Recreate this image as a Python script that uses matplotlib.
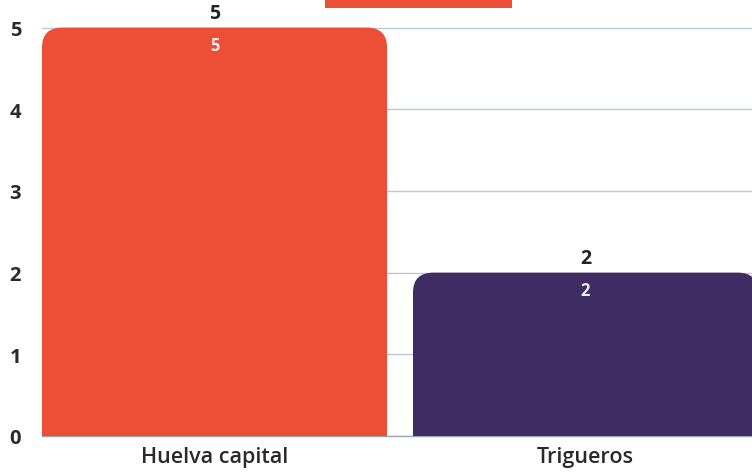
import matplotlib.pyplot as plt
from matplotlib.patches import FancyBboxPatch, Rectangle

plt.rcParams['font.family'] = ['Open Sans', 'DejaVu Sans']

categories = ['Huelva capital', 'Trigueros']
values = [5, 2]
colors = ['#ED4E36', '#3F2C62']
yticks = [0, 1, 2, 3, 4, 5]

fig = plt.figure(figsize=(7.52, 4.77), dpi=100)
ax = fig.add_axes([42 / 752, 40 / 477, 710 / 752, 437 / 477])

width = 0.93
bars = ax.bar(range(len(categories)), values, width=width, color=colors)

# swap plain bars for ones with rounded tops (bottom part hidden below axis)
for b, c in zip(bars, colors):
    x, h = b.get_x(), b.get_height()
    b.set_visible(False)
    p = FancyBboxPatch((x, -0.5), width, h + 0.5,
                       boxstyle='round,pad=0,rounding_size=0.055',
                       mutation_aspect=4.4, facecolor=c, edgecolor='none',
                       zorder=3)
    ax.add_patch(p)

for i, v in enumerate(values):
    ax.text(i, v + 0.06, str(v), ha='center', va='bottom', fontsize=14,
            fontweight='bold', color='#222222', zorder=4)
    ax.text(i, v - 0.1, str(v), ha='center', va='top', fontsize=12,
            fontweight='bold', color='#ececec', zorder=4)

ax.set_xlim(-width / 2, -width / 2 + 710 / 371)
ax.set_ylim(0, 5.35)
ax.set_yticks(yticks)
ax.set_yticklabels([str(t) for t in yticks], fontsize=14.5, fontweight='bold',
                   color='#2a2a2a')
ax.set_xticks(range(len(categories)))
ax.set_xticklabels(categories, fontsize=15.5, fontweight='semibold',
                   color='#2a2a2a')
ax.tick_params(axis='both', length=0)
ax.tick_params(axis='y', pad=15)
ax.tick_params(axis='x', pad=7)
for s in ['top', 'right', 'left']:
    ax.spines[s].set_visible(False)
ax.spines['bottom'].set_color('#9aa6b2')
ax.spines['bottom'].set_linewidth(1.0)
ax.yaxis.grid(True, color='#b9c9d6', linewidth=1.0, zorder=0)
ax.set_axisbelow(True)

# legend swatch, cut off at the top of the picture
fig.patches.append(Rectangle((325 / 752, 1 - 9 / 477), 187 / 752, 0.05,
                             transform=fig.transFigure, facecolor='#ED4E36',
                             edgecolor='none'))

fig.savefig('out.png', dpi=100)
